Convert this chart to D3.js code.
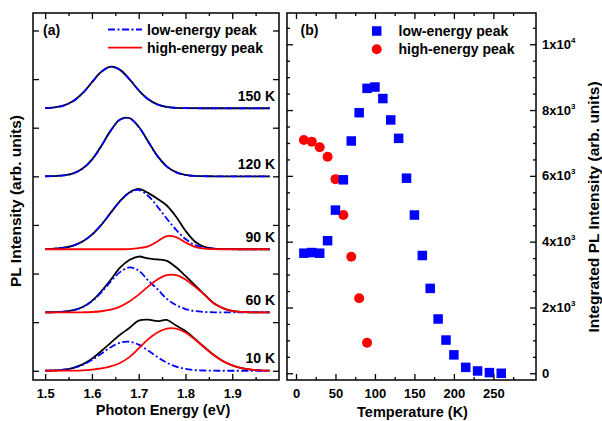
<!DOCTYPE html>
<html>
<head>
<meta charset="utf-8">
<script src="https://cdn.jsdelivr.net/npm/d3@7"></script>
<style>
  body { margin: 0; background: #fff; }
  svg { display: block; }
</style>
</head>
<body>
<div id="chart"></div>
<script>
// ---- panel (a): PL spectra, sampled every 0.02 eV ----
const energy = [1.50, 1.52, 1.54, 1.56, 1.58, 1.60, 1.62, 1.64, 1.66, 1.68, 1.70, 1.72, 1.74,
                1.76, 1.78, 1.80, 1.82, 1.84, 1.86, 1.88, 1.90, 1.92, 1.94, 1.96, 1.98];
const tempLabels = ['150 K', '120 K', '90 K', '60 K', '10 K'];
const offsets = [5.4, 4.0, 2.5, 1.2, 0];

const spectrum150 = [0.006, 0.02, 0.058, 0.15, 0.31, 0.535, 0.75, 0.855, 0.79, 0.6, 0.37, 0.19, 0.08,
                     0.028, 0.009, 0.003, 0.002, 0.001, 0, 0.001, 0, 0.001, 0, 0, 0];
const lowFit150   = [0.005, 0.018, 0.056, 0.146, 0.309, 0.532, 0.746, 0.852, 0.793, 0.601, 0.371, 0.187, 0.077,
                     0.026, 0.007, 0.002, 0, 0, 0, 0, 0, 0, 0, 0, 0];

const spectrum120 = [0.002, 0.006, 0.02, 0.06, 0.16, 0.345, 0.625, 0.94, 1.17, 1.2, 1.02, 0.72, 0.42,
                     0.205, 0.085, 0.03, 0.009, 0.003, 0.001, 0, 0, 0.001, 0, 0, 0];
const lowFit120   = [0.001, 0.005, 0.018, 0.058, 0.155, 0.341, 0.62, 0.934, 1.163, 1.196, 1.018, 0.716, 0.416,
                     0.2, 0.08, 0.026, 0.007, 0.002, 0, 0, 0, 0, 0, 0, 0];

const spectrum90  = [0.004, 0.012, 0.032, 0.076, 0.161, 0.301, 0.503, 0.748, 0.989, 1.168, 1.241, 1.16, 1.04,
                     0.9, 0.67, 0.38, 0.16, 0.05, 0.014, 0.004, 0.001, 0, 0, 0, 0];
const lowFit90    = [0.004, 0.012, 0.032, 0.076, 0.161, 0.301, 0.503, 0.748, 0.989, 1.164, 1.219, 1.1, 0.88,
                     0.63, 0.4, 0.21, 0.09, 0.035, 0.012, 0.004, 0, 0, 0, 0, 0];
const highFit90   = [0, 0, 0, 0, 0, 0, 0, 0, 0, 0.004, 0.022, 0.06, 0.16,
                     0.27, 0.25, 0.14, 0.05, 0.012, 0.002, 0, 0, 0, 0, 0, 0];

const spectrum60  = [0.001, 0.004, 0.015, 0.045, 0.111, 0.237, 0.435, 0.67, 0.92, 1.08, 1.15, 1.11, 1.09,
                     1.06, 0.93, 0.75, 0.56, 0.376, 0.193, 0.09, 0.03, 0.01, 0.003, 0.001, 0];
const lowFit60    = [0.001, 0.004, 0.015, 0.044, 0.108, 0.228, 0.411, 0.632, 0.829, 0.925, 0.86, 0.66, 0.48,
                     0.28, 0.15, 0.07, 0.028, 0.01, 0.003, 0, 0, 0, 0, 0, 0];
const highFit60   = [0, 0, 0, 0.001, 0.003, 0.009, 0.024, 0.057, 0.12, 0.223, 0.366, 0.53, 0.679,
                     0.768, 0.768, 0.679, 0.53, 0.366, 0.19, 0.09, 0.03, 0.01, 0.003, 0.001, 0];

const spectrum10  = [0.003, 0.008, 0.025, 0.061, 0.131, 0.246, 0.406, 0.573, 0.74, 0.88, 1.03, 1.05, 1.02,
                     1.045, 0.93, 0.82, 0.66, 0.49, 0.33, 0.2, 0.11, 0.055, 0.025, 0.01, 0.004];
const lowFit10    = [0.003, 0.008, 0.024, 0.057, 0.121, 0.221, 0.351, 0.483, 0.577, 0.597, 0.537, 0.419, 0.284,
                     0.167, 0.085, 0.038, 0.014, 0.005, 0.001, 0, 0, 0, 0, 0, 0];
const highFit10   = [0, 0, 0.001, 0.004, 0.01, 0.025, 0.05, 0.09, 0.16, 0.28, 0.46, 0.647, 0.788,
                     0.869, 0.869, 0.788, 0.647, 0.481, 0.324, 0.198, 0.11, 0.055, 0.025, 0.01, 0.004];

// ---- panel (b): integrated intensity vs temperature ----
const tempLow  = [10, 20, 30, 40, 50, 60, 70, 80, 90, 100, 110, 120, 130, 140, 150, 160, 170, 180, 190, 200, 215, 230, 245, 260];
const intLow   = [3650, 3670, 3650, 4030, 4960, 5880, 7060, 7920, 8660, 8700, 8350, 7700, 7140, 5930, 4810, 3580,
                  2580, 1650, 1010, 560, 180, 70, 20, 0];
const tempHigh = [10, 20, 30, 40, 50, 60, 70, 80, 90];
const intHigh  = [7090, 7040, 6870, 6580, 5900, 4810, 3540, 2280, 930];

const energyTicks = [1.5, 1.6, 1.7, 1.8, 1.9];
const energyMinor = [1.55, 1.65, 1.75, 1.85, 1.95];
const tempTicks = [0, 50, 100, 150, 200, 250];
const tempMinor = [25, 75, 125, 175, 225, 275];
const intTicks = [0, 2000, 4000, 6000, 8000, 10000];
const intMinor = [500, 1000, 1500, 2500, 3000, 3500, 4500, 5000, 5500, 6500, 7000, 7500, 8500, 9000, 9500, 10500];

const FONT = '"Liberation Sans", Arial, Helvetica, sans-serif';
const BLUE = '#0000ff', RED = '#ff0000';
const W = 602, H = 421;

const svg = d3.select('#chart').append('svg')
  .attr('width', W).attr('height', H)
  .attr('font-family', FONT).attr('font-weight', 'bold');

const boxA = {l: 33, r: 279, t: 13, b: 380};
const boxB = {l: 287, r: 536, t: 13, b: 380};

const xA = d3.scaleLinear().domain([1.474, 2.0]).range([boxA.l, boxA.r]);
const yA = d3.scaleLinear().domain([-0.19, 7.36]).range([boxA.b, boxA.t]);
const xB = d3.scaleLinear().domain([-11.4, 304]).range([boxB.l, boxB.r]);
const yB = d3.scaleLinear().domain([-204, 10950]).range([boxB.b, boxB.t]);

// inward ticks, optional labels
const addAxis = (axisFn, scale, tr, vals, size, fmt, pad) => {
  const ax = axisFn(scale).tickValues(vals).tickSizeInner(-size).tickSizeOuter(0)
    .tickPadding(pad || 0).tickFormat(fmt || (() => ''));
  const g = svg.append('g').attr('transform', tr).call(ax);
  g.attr('font-family', FONT).attr('font-size', 13).attr('font-weight', 'bold');
  g.select('.domain').remove();
  g.selectAll('line').attr('stroke', '#000').attr('stroke-width', 1.3);
  g.selectAll('text').attr('fill', '#000');
  return g;
};

// ---------- panel (a) ----------
const sets = tempLabels.map((lab, i) => ({
  label: lab,
  off: offsets[i],
  black: [spectrum150, spectrum120, spectrum90, spectrum60, spectrum10][i],
  low: [lowFit150, lowFit120, lowFit90, lowFit60, lowFit10][i],
  high: [null, null, highFit90, highFit60, highFit10][i]
}));

const lineA = off => d3.line()
  .x((d, i) => xA(energy[i]))
  .y(d => yA(d + off))
  .curve(d3.curveCatmullRom.alpha(0.5));

const gA = svg.append('g');
sets.forEach(s => {
  gA.append('path').attr('d', lineA(s.off)(s.black))
    .attr('fill', 'none').attr('stroke', '#000').attr('stroke-width', 1.8);
  gA.append('path').attr('d', lineA(s.off)(s.low))
    .attr('fill', 'none').attr('stroke', BLUE).attr('stroke-width', 1.8)
    .attr('stroke-dasharray', '7,2.5,2,2.5');
  if (s.high) {
    gA.append('path').attr('d', lineA(s.off)(s.high))
      .attr('fill', 'none').attr('stroke', RED).attr('stroke-width', 1.8);
  }
  gA.append('text').attr('x', 275).attr('y', yA(s.off) - 7.5)
    .attr('text-anchor', 'end').attr('font-size', 14).text(s.label);
});

addAxis(d3.axisBottom, xA, `translate(0,${boxA.b})`, energyTicks, 6, d3.format('.1f'), 9);
addAxis(d3.axisBottom, xA, `translate(0,${boxA.b})`, energyMinor, 3);
addAxis(d3.axisTop, xA, `translate(0,${boxA.t})`, energyTicks, 6);
addAxis(d3.axisTop, xA, `translate(0,${boxA.t})`, energyMinor, 3);
addAxis(d3.axisLeft, yA, `translate(${boxA.l},0)`, d3.range(0, 8), 6);
addAxis(d3.axisRight, yA, `translate(${boxA.r},0)`, d3.range(0, 8), 6);

svg.append('rect').attr('x', boxA.l).attr('y', boxA.t)
  .attr('width', boxA.r - boxA.l).attr('height', boxA.b - boxA.t)
  .attr('fill', 'none').attr('stroke', '#000').attr('stroke-width', 1.5);

svg.append('text').attr('x', 43).attr('y', 34.5).attr('font-size', 14).text('(a)');

// legend (a)
svg.append('line').attr('x1', 108).attr('x2', 142).attr('y1', 29.5).attr('y2', 29.5)
  .attr('stroke', BLUE).attr('stroke-width', 1.8).attr('stroke-dasharray', '7,2.5,2,2.5');
svg.append('text').attr('x', 147).attr('y', 34.5).attr('font-size', 14).text('low-energy peak');
svg.append('line').attr('x1', 108).attr('x2', 142).attr('y1', 47.7).attr('y2', 47.7)
  .attr('stroke', RED).attr('stroke-width', 1.8);
svg.append('text').attr('x', 147).attr('y', 52.5).attr('font-size', 14).text('high-energy peak');

svg.append('text').attr('x', (boxA.l + boxA.r) / 2 + 7).attr('y', 415)
  .attr('text-anchor', 'middle').attr('font-size', 14.5).text('Photon Energy (eV)');
svg.append('text').attr('transform', 'translate(20.5,201) rotate(-90)')
  .attr('text-anchor', 'middle').attr('font-size', 15.5).text('PL Intensity (arb. units)');

// ---------- panel (b) ----------
svg.append('g').selectAll('circle')
  .data(tempHigh).join('circle')
  .attr('cx', d => xB(d)).attr('cy', (d, i) => yB(intHigh[i])).attr('r', 5)
  .attr('fill', RED);

const SQ = 9.5;
svg.append('g').selectAll('rect')
  .data(tempLow).join('rect')
  .attr('x', d => xB(d) - SQ / 2).attr('y', (d, i) => yB(intLow[i]) - SQ / 2)
  .attr('width', SQ).attr('height', SQ).attr('fill', BLUE);

addAxis(d3.axisBottom, xB, `translate(0,${boxB.b})`, tempTicks, 6, d3.format('d'), 9);
addAxis(d3.axisBottom, xB, `translate(0,${boxB.b})`, tempMinor, 3);
addAxis(d3.axisTop, xB, `translate(0,${boxB.t})`, tempTicks, 6);
addAxis(d3.axisTop, xB, `translate(0,${boxB.t})`, tempMinor, 3);
addAxis(d3.axisLeft, yB, `translate(${boxB.l},0)`, intTicks, 6);
addAxis(d3.axisLeft, yB, `translate(${boxB.l},0)`, intMinor, 3);
addAxis(d3.axisRight, yB, `translate(${boxB.r},0)`, intTicks, 6);
addAxis(d3.axisRight, yB, `translate(${boxB.r},0)`, intMinor, 3);

svg.append('rect').attr('x', boxB.l).attr('y', boxB.t)
  .attr('width', boxB.r - boxB.l).attr('height', boxB.b - boxB.t)
  .attr('fill', 'none').attr('stroke', '#000').attr('stroke-width', 1.5);

// right-hand labels in "n x 10^k" form
const labB = svg.append('g').attr('font-size', 13);
intTicks.forEach(v => {
  const t = labB.append('text').attr('x', boxB.r + 6).attr('y', yB(v) + 4.5);
  if (v === 0) { t.text('0'); return; }
  const exp = Math.floor(Math.log10(v));
  t.append('tspan').text(`${v / Math.pow(10, exp)}x10`);
  t.append('tspan').attr('font-size', 8).attr('dy', -6).text(exp);
});

svg.append('text').attr('x', 300.5).attr('y', 34.5).attr('font-size', 14).text('(b)');

// legend (b)
svg.append('rect').attr('x', 376.7 - SQ / 2).attr('y', 31 - SQ / 2)
  .attr('width', SQ).attr('height', SQ).attr('fill', BLUE);
svg.append('text').attr('x', 398.5).attr('y', 36).attr('font-size', 14).text('low-energy peak');
svg.append('circle').attr('cx', 376.7).attr('cy', 49.3).attr('r', 5).attr('fill', RED);
svg.append('text').attr('x', 398.5).attr('y', 54).attr('font-size', 14).text('high-energy peak');

svg.append('text').attr('x', (boxB.l + boxB.r) / 2 + 1).attr('y', 416.5)
  .attr('text-anchor', 'middle').attr('font-size', 14.5).text('Temperature (K)');
svg.append('text').attr('transform', 'translate(599,207) rotate(-90)')
  .attr('text-anchor', 'middle').attr('font-size', 15.5).text('Integrated PL Intensity (arb. units)');
</script>
</body>
</html>
